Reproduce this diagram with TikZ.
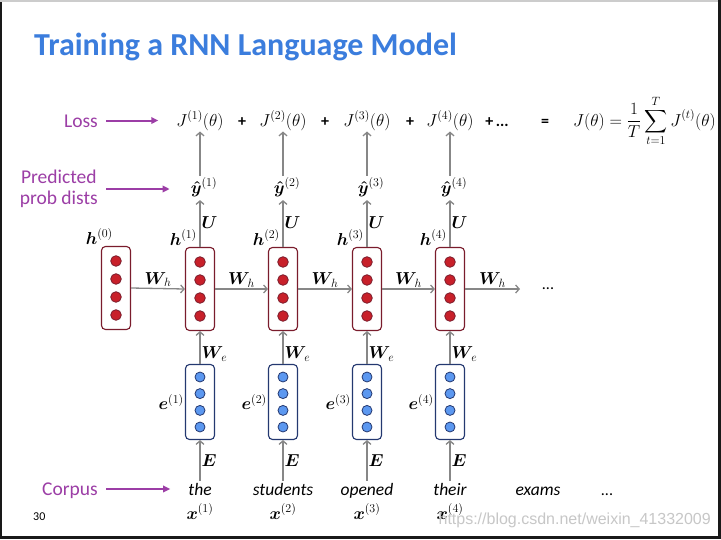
\documentclass[tikz,border=0pt]{standalone}
\usepackage{fontspec}
\usepackage{amsmath}
\usepackage{amssymb}
\setsansfont{Carlito}
\newfontfamily\wasserfont{Liberation Sans}
\usetikzlibrary{arrows.meta}
\DeclareMathSizes{16}{16}{12.5}{9}

\definecolor{titelblau}{RGB}{59,125,221}
\definecolor{lila}{RGB}{156,62,166}
\definecolor{hrot}{RGB}{122,28,44}
\definecolor{hfuell}{RGB}{200,32,42}
\definecolor{eblau}{RGB}{36,56,112}
\definecolor{efuell}{RGB}{92,152,240}
\definecolor{grau}{RGB}{135,135,135}

\begin{document}
\begin{tikzpicture}[x=1pt,y=-1pt,
		mathe/.style={font=\fontsize{16}{19}\selectfont, inner sep=1pt},
		hbox/.style={draw=hrot, line width=1.1pt, fill=white, rounded corners=4pt,
			minimum width=29pt, minimum height=83pt, inner sep=0pt},
		ebox/.style={draw=eblau, line width=1.1pt, fill=white, rounded corners=4pt,
			minimum width=29pt, minimum height=75pt, inner sep=0pt},
		hdot/.style={draw=hrot, line width=0.8pt, fill=hfuell},
		edot/.style={draw=eblau, line width=0.8pt, fill=efuell},
		pfeil/.style={draw=grau, line width=1.3pt, -{Straight Barb[length=3.5pt,width=8pt]}},
		lilapfeil/.style={draw=lila, line width=2pt, -{Triangle[length=7pt,width=6.5pt]}},
		etikett/.style={text=lila, font=\fontsize{19.5}{23}\selectfont\sffamily, inner sep=0pt},
		wort/.style={font=\fontsize{17.5}{20}\selectfont\sffamily\itshape, inner sep=1pt},
		plus/.style={font=\fontsize{16}{19}\selectfont\sffamily\bfseries, inner sep=1pt}]

		% Rahmen
		\useasboundingbox (0,0) rectangle (721,539);
		\fill[white] (0,0) rectangle (721,539);
		\fill[black!90] (0,0) rectangle (2,539);
		\fill[black!20] (0,0) rectangle (721,2);
		\fill[black!90] (718,0) rectangle (721,539);
		\fill[black!90] (0,536) rectangle (721,539);

		% Titel
		\node[anchor=base west, text=titelblau, inner sep=0pt,
			font=\fontsize{32}{38}\selectfont\sffamily\bfseries] (titel) at (34,55)
			{Training a RNN Language Model};

		% Beschriftungen links
		\node[etikett, anchor=base east] (loss) at (98,127) {Loss};
		\node[etikett, anchor=east, align=center] (pred) at (98,189) {Predicted\\[-2pt]prob dists};
		\node[etikett, anchor=base east] (corpus) at (98,495) {Corpus};

		% Verlust
		\node[plus, anchor=base] (p1) at (242,126) {+};
		\node[plus, anchor=base] (p2) at (325,126) {+};
		\node[plus, anchor=base] (p3) at (410,126) {+};
		\node[plus, anchor=base] (p4) at (497,126) {+\,...};
		\node[plus, anchor=base] (gleich) at (545,126) {=};
		\node[mathe, anchor=base west] (Jges) at (572,126)
			{$\displaystyle J(\theta)=\frac{1}{T}\sum_{t=1}^{T}J^{(t)}(\theta)$};

		% Startzustand
		\node[hbox] (h0) at (116,288) {};
		\foreach \dy in {-27,-9,9,27}
			\filldraw[hdot] ([yshift=\dy pt]h0.center) circle (5.3pt);
		\node[mathe, anchor=south east] at ([xshift=-2pt]h0.north) {$\boldsymbol{h}^{(0)}$};

		% Zeitschritte
		\foreach \i/\x/\w in {1/200/the, 2/283/students, 3/367/opened, 4/450/their} {
			\node[mathe, anchor=base] (J\i) at (\x,126) {$J^{(\i)}(\theta)$};
			\node[mathe] (y\i) at (\x+4,187) {$\boldsymbol{\hat y}^{(\i)}$};
			\node[hbox] (h\i) at (\x,289) {};
			\foreach \dy in {-27,-9,9,27}
				\filldraw[hdot] ([yshift=\dy pt]h\i.center) circle (5.3pt);
			\node[mathe, anchor=south east] at ([xshift=-2pt]h\i.north) {$\boldsymbol{h}^{(\i)}$};
			\node[ebox] (e\i) at (\x,402) {};
			\foreach \dy in {-25,-8.4,8.4,25}
				\filldraw[edot] ([yshift=\dy pt]e\i.center) circle (5pt);
			\node[mathe, anchor=east] at (e\i.west) {$\boldsymbol{e}^{(\i)}$};
			\node[wort, anchor=base] (w\i) at (\x,495) {\w};
			\node[mathe, anchor=base] (x\i) at (\x,519) {$\boldsymbol{x}^{(\i)}$};

			% Pfeile
			\draw[pfeil] (y\i.north -| h\i.north) -- (J\i.south -| h\i.north);
			\draw[pfeil, shorten >=2pt] (h\i.north) -- (y\i.south -| h\i.north)
				node[mathe, midway, right] {$\boldsymbol{U}$};
			\draw[pfeil] (e\i.north) -- (h\i.south)
				node[mathe, pos=0.3, right] {$\boldsymbol{W}_{\!e}$};
			\draw[pfeil, shorten <=1pt] (w\i.north) -- (e\i.south)
				node[mathe, midway, right] {$\boldsymbol{E}$};
		}
		\node[wort, anchor=base] (w5) at (538,495) {exams};
		\node[plus, anchor=base, font=\fontsize{16}{19}\selectfont\sffamily] (w6) at (607,495) {...};

		% Rekurrenz
		\foreach \a/\b in {0/1, 1/2, 2/3, 3/4}
			\draw[pfeil] (h\a.east) -- (h\b.west)
				node[mathe, midway, above] {$\boldsymbol{W}_{\!h}$};
		\coordinate (hend) at (520,289);
		\draw[pfeil] (h4.east) -- (hend) node[mathe, midway, above] {$\boldsymbol{W}_{\!h}$};
		\node[plus, font=\fontsize{16}{19}\selectfont\sffamily] (hdots) at (548,289) {...};

		% Lila Pfeile
		\draw[lilapfeil, shorten <=8pt, shorten >=17pt] (loss.east |- J1) -- (J1.west);
		\draw[lilapfeil, shorten <=8pt, shorten >=20pt] (pred.east) -- (pred.east -| y1.west);
		\draw[lilapfeil, shorten <=8pt, shorten >=17pt] (corpus.east |- w1) -- (w1.west);

		% Seitenzahl und Wasserzeichen
		\node[anchor=west, font=\fontsize{12}{14}\selectfont\sffamily, inner sep=0pt] (seite) at (33,517) {30};
		\node[anchor=east, text=black!22, font=\fontsize{16}{19}\selectfont\wasserfont, inner sep=0pt]
			(wasser) at (711,520) {https://blog.csdn.net/weixin\_41332009};
	\end{tikzpicture}
\end{document}
